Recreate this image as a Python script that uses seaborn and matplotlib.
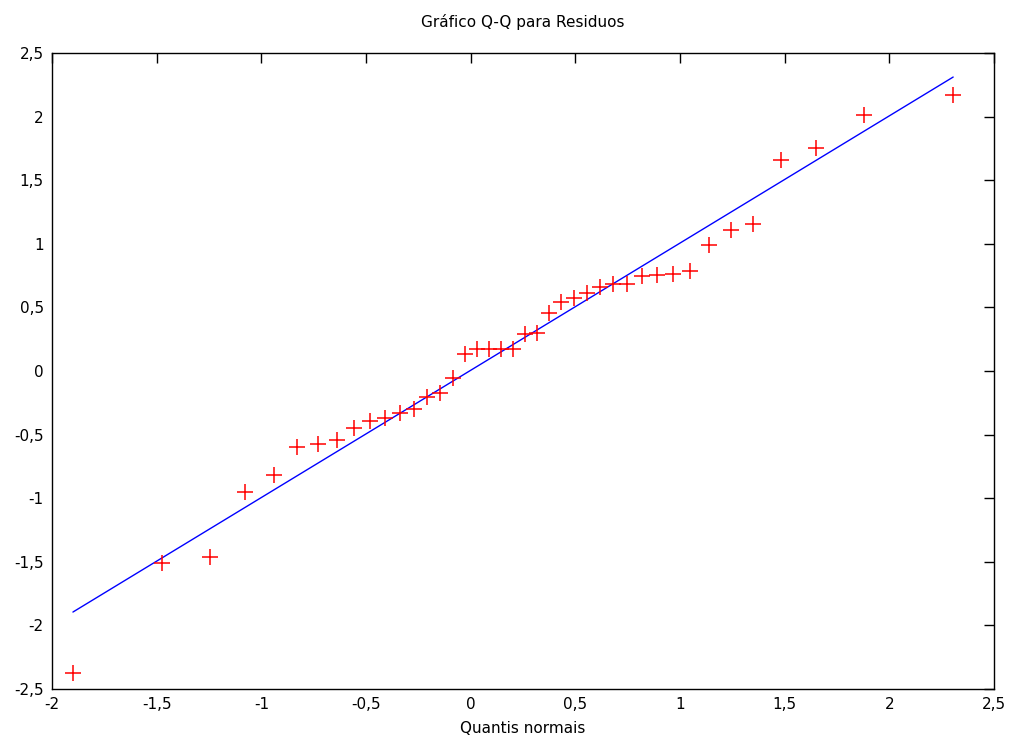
import matplotlib
matplotlib.use("Agg")
import matplotlib.pyplot as plt
import matplotlib.ticker as mticker
import seaborn as sns
import pandas as pd

theoretical = [-1.90, -1.474, -1.245, -1.078, -0.939, -0.829, -0.729, -0.638, -0.557, -0.481,
               -0.409, -0.337, -0.270, -0.208, -0.146, -0.084, -0.027, 0.031, 0.088, 0.145,
               0.203, 0.26, 0.317, 0.375, 0.432, 0.494, 0.556, 0.618, 0.680, 0.747,
               0.819, 0.891, 0.967, 1.048, 1.139, 1.244, 1.349, 1.483, 1.650, 1.880, 2.305]
residuals = [-2.374, -1.51, -1.46, -0.95, -0.82, -0.60, -0.575, -0.545, -0.45, -0.395,
             -0.37, -0.33, -0.30, -0.204, -0.17, -0.055, 0.13, 0.172, 0.174, 0.174,
             0.174, 0.29, 0.295, 0.457, 0.545, 0.575, 0.615, 0.66, 0.685, 0.685,
             0.748, 0.753, 0.763, 0.79, 0.99, 1.105, 1.155, 1.66, 1.75, 2.01, 2.17]
ref_x = [-1.90, 2.305]
ref_y = [-1.895, 2.311]

sns.set_theme(style="white")
plt.rcParams['font.family'] = ['DejaVu Sans']
plt.rcParams['text.color'] = 'black'
plt.rcParams['axes.labelcolor'] = 'black'

df = pd.DataFrame({"q": theoretical, "r": residuals})
ref = pd.DataFrame({"x": ref_x, "y": ref_y})

fig = plt.figure(figsize=(10.13, 7.52), dpi=100)
ax = fig.add_axes([52/1013, 1-689/752, (994-52)/1013, (689-53)/752])

sns.lineplot(data=ref, x="x", y="y", ax=ax, color="#0000ff", linewidth=1.0)
sns.scatterplot(data=df, x="q", y="r", ax=ax, marker="+", color="#ff0000",
                s=120, linewidth=1.1, zorder=3)

ax.set_xlim(-2, 2.5)
ax.set_ylim(-2.5, 2.5)
ax.xaxis.set_major_locator(mticker.MultipleLocator(0.5))
ax.yaxis.set_major_locator(mticker.MultipleLocator(0.5))

def fmt_func(v, p):
    if abs(v) < 1e-9:
        return "0"
    return ("%g" % v).replace(".", ",")

fmt = mticker.FuncFormatter(fmt_func)
ax.xaxis.set_major_formatter(fmt)
ax.yaxis.set_major_formatter(fmt)
ax.tick_params(direction="in", length=7, width=1, top=True, right=True,
               labelsize=11, colors="black", pad=6)
for s in ax.spines.values():
    s.set_color("black")
    s.set_linewidth(1.0)
ax.set_xlabel("Quantis normais", fontsize=11, labelpad=6, color="black")
ax.set_ylabel("")
fig.text(523/1013, 1-22/752, "Gráfico Q-Q para Residuos", ha="center", va="center",
         fontsize=11, color="black")

fig.savefig("out.png", dpi=100)
